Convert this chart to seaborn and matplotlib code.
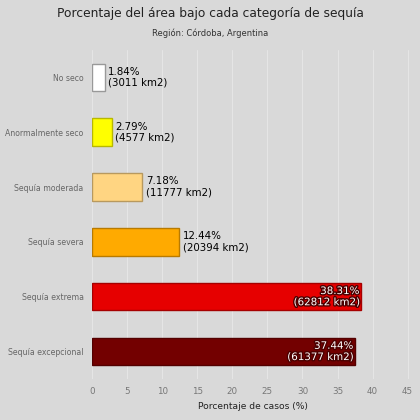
import pandas as pd
import seaborn as sns
import matplotlib.pyplot as plt
import matplotlib.patheffects as pe
from matplotlib.colors import to_rgb

categorias = ["No seco", "Anormalmente seco", "Sequía moderada",
              "Sequía severa", "Sequía extrema", "Sequía excepcional"]
porcentajes = [1.84, 2.79, 7.18, 12.44, 38.31, 37.44]
areas_km2 = [3011, 4577, 11777, 20394, 62812, 61377]
colores = ["#ffffff", "#ffff00", "#ffd582", "#ffaa00", "#e60000", "#730000"]

df = pd.DataFrame({"cat": categorias, "pct": porcentajes, "km2": areas_km2})

sns.set_theme(style="whitegrid")
plt.rcParams["font.family"] = ["DejaVu Sans"]

fig = plt.figure(figsize=(4.2, 4.2), dpi=100, facecolor="#d9d9d9")
ax = fig.add_axes([0.219, 0.098, 0.765, 0.783])
ax.set_facecolor("#d9d9d9")

sns.barplot(data=df, x="pct", y="cat", hue="cat", palette=colores,
            legend=False, width=0.5, saturation=1, ax=ax)

bordes = ["#999999"] + [tuple(c * 0.72 for c in to_rgb(col)) for col in colores[1:]]
for patch, b in zip(ax.patches, bordes):
    patch.set_edgecolor(b)
    patch.set_linewidth(1.0)

for i, (p, k) in enumerate(zip(porcentajes, areas_km2)):
    txt = f"{p:.2f}%\n({k} km2)"
    if p > 30:
        ax.text(p - 0.2, i, txt, ha="right", va="center", fontsize=7.4,
                color="white", linespacing=1.15,
                path_effects=[pe.withStroke(linewidth=2, foreground="#4a0000")])
    else:
        ax.text(p + 0.5, i, txt, ha="left", va="center", fontsize=7.4,
                color="black", linespacing=1.15)

ax.set_xlim(0, 45.8)
ax.set_ylim(5.5, -0.5)
ax.set_xticks(range(0, 50, 5))
ax.grid(axis="x", color="#e6e6e6", linewidth=0.7)
ax.grid(axis="y", visible=False)
for s in ax.spines.values():
    s.set_visible(False)
ax.tick_params(axis="x", colors="#777777", labelsize=6.3, length=0, pad=6)
ax.tick_params(axis="y", colors="#666666", labelsize=5.6, length=0, pad=6)
ax.set_xlabel("Porcentaje de casos (%)", fontsize=6.6, color="#222222", labelpad=4)
ax.set_ylabel("")

fig.text(0.5, 0.968, "Porcentaje del área bajo cada categoría de sequía",
         ha="center", va="center", fontsize=8.8, color="#222222")
fig.text(0.5, 0.921, "Región: Córdoba, Argentina",
         ha="center", va="center", fontsize=6.0, color="#333333")

fig.savefig("out.png", dpi=100, facecolor=fig.get_facecolor())
